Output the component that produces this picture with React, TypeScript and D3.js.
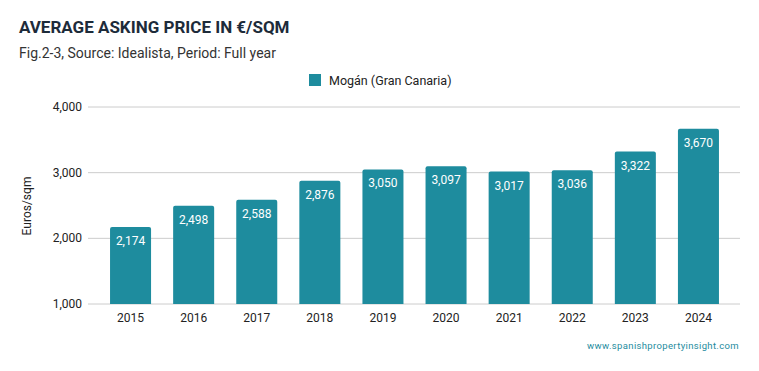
import React, { useRef, useEffect } from "react";
import * as d3 from "d3";

const years = ["2015", "2016", "2017", "2018", "2019", "2020", "2021", "2022", "2023", "2024"];
const prices = [2174, 2498, 2588, 2876, 3050, 3097, 3017, 3036, 3322, 3670];
const yTicks = [1000, 2000, 3000, 4000];

const BAR = "#1e8c9e";

const App = () => {
  const ref = useRef<SVGSVGElement>(null);

  useEffect(() => {
    if (!ref.current) return;
    const svg = d3.select(ref.current);
    svg.selectAll("*").remove();

    const x = d3.scaleBand().domain(years).range([99, 730]).paddingInner(0.35).paddingOuter(0.175);
    const y = d3.scaleLinear().domain([1000, 4000]).range([304, 107]);

    svg.append("text").attr("x", 19).attr("y", 33)
      .attr("font-size", 17).attr("font-weight", 700).attr("fill", "#1d2b3a")
      .text("AVERAGE ASKING PRICE IN €/SQM");
    svg.append("text").attr("x", 19).attr("y", 58)
      .attr("font-size", 14).attr("fill", "#333")
      .text("Fig.2-3, Source: Idealista, Period: Full year");

    // legend
    svg.append("rect").attr("x", 309).attr("y", 74).attr("width", 12).attr("height", 12).attr("fill", BAR);
    svg.append("text").attr("x", 329).attr("y", 85).attr("font-size", 12.5).attr("fill", "#222")
      .text("Mogán (Gran Canaria)");

    // grid + y labels
    svg.append("g").selectAll("line").data(yTicks).join("line")
      .attr("x1", 88).attr("x2", 740)
      .attr("y1", d => y(d)).attr("y2", d => y(d))
      .attr("stroke", "#cccccc").attr("stroke-width", 1);
    svg.append("g").selectAll("text").data(yTicks).join("text")
      .attr("x", 82).attr("y", d => y(d) + 4)
      .attr("text-anchor", "end").attr("font-size", 12).attr("fill", "#222")
      .text(d => d3.format(",")(d));

    svg.append("text")
      .attr("transform", "translate(31,206) rotate(-90)")
      .attr("text-anchor", "middle").attr("font-size", 12).attr("fill", "#222")
      .text("Euros/sqm");

    const r = 2;
    svg.append("g").selectAll("path").data(years).join("path")
      .attr("fill", BAR)
      .attr("d", (d, i) => {
        const x0 = x(d)!, w = x.bandwidth(), top = y(prices[i]), bot = y(1000);
        return `M${x0},${bot}V${top + r}Q${x0},${top} ${x0 + r},${top}H${x0 + w - r}Q${x0 + w},${top} ${x0 + w},${top + r}V${bot}Z`;
      });

    svg.append("g").selectAll("text").data(years).join("text")
      .attr("x", d => x(d)! + x.bandwidth() / 2)
      .attr("y", (d, i) => y(prices[i]) + 18)
      .attr("text-anchor", "middle").attr("font-size", 12).attr("fill", "#fff")
      .text((d, i) => d3.format(",")(prices[i]));

    svg.append("g").selectAll("text").data(years).join("text")
      .attr("x", d => x(d)! + x.bandwidth() / 2)
      .attr("y", 322)
      .attr("text-anchor", "middle").attr("font-size", 12).attr("fill", "#222")
      .text(d => d);

    svg.append("text").attr("x", 739).attr("y", 349)
      .attr("text-anchor", "end").attr("font-size", 9.5).attr("letter-spacing", 0.35)
      .attr("fill", "#1e8c9e")
      .text("www.spanishpropertyinsight.com");
  }, []);

  return (
    <svg ref={ref} width={759} height={371}
      style={{ position: "absolute", left: 0, top: 0, fontFamily: "Roboto, sans-serif", background: "#fff" }} />
  );
};

export default App;
